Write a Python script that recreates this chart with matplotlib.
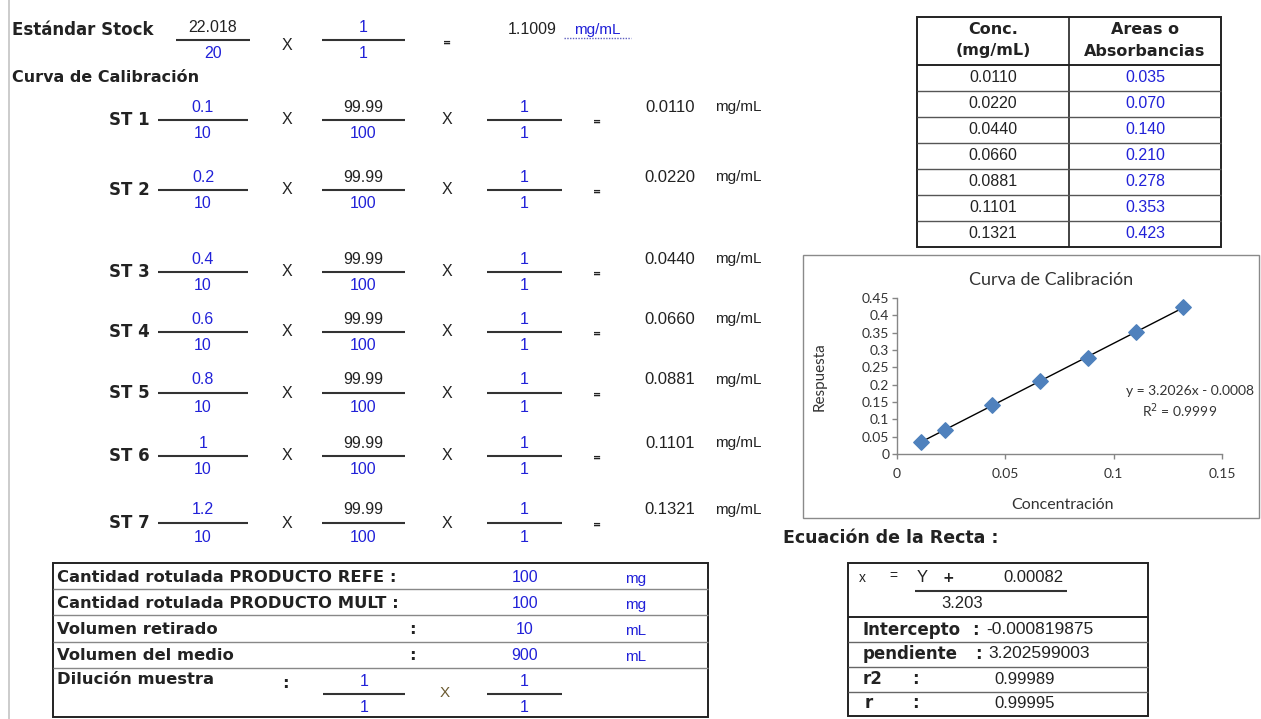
import matplotlib
matplotlib.use("Agg")
import matplotlib.pyplot as plt
from matplotlib.patches import Rectangle
import numpy as np

# ---------------- data ----------------
conc = [0.0110, 0.0220, 0.0440, 0.0660, 0.0881, 0.1101, 0.1321]
conc_labels = ["0.0110", "0.0220", "0.0440", "0.0660", "0.0881", "0.1101", "0.1321"]
resp = [0.035, 0.070, 0.140, 0.210, 0.278, 0.353, 0.423]
resp_labels = ["0.035", "0.070", "0.140", "0.210", "0.278", "0.353", "0.423"]

st_names = ["ST 1", "ST 2", "ST 3", "ST 4", "ST 5", "ST 6", "ST 7"]
st_num = ["0.1", "0.2", "0.4", "0.6", "0.8", "1", "1.2"]
st_den = ["10"] * 7
purity_num = "99.99"
purity_den = "100"
dil_num = "1"
dil_den = "1"

stock_num = "22.018"
stock_den = "20"
stock_value = "1.1009"
unit = "mg/mL"

box_labels = ["Cantidad rotulada PRODUCTO REFE :", "Cantidad rotulada PRODUCTO MULT :",
              "Volumen retirado", "Volumen del medio"]
box_values = ["100", "100", "10", "900"]
box_units = ["mg", "mg", "mL", "mL"]

eq_intercept = "-0.000819875"
eq_slope = "3.202599003"
eq_r2 = "0.99989"
eq_r = "0.99995"
eq_plus = "0.00082"
eq_div = "3.203"

x_ticks = [0, 0.05, 0.1, 0.15]
x_tick_labels = ["0", "0.05", "0.1", "0.15"]
y_ticks = [0, 0.05, 0.1, 0.15, 0.2, 0.25, 0.3, 0.35, 0.4, 0.45]
y_tick_labels = ["0", "0.05", "0.1", "0.15", "0.2", "0.25", "0.3", "0.35", "0.4", "0.45"]

# ---------------- styles ----------------
BLUE = "#2121d8"
DARK = "#222222"
LINE = "#333333"
BOLD = dict(family="DejaVu Sans", fontweight="bold", color=DARK)
NUM = dict(family="Liberation Sans", color=DARK)
CH = dict(family="Lato", color="#333333")

W, H = 1261, 719
fig = plt.figure(figsize=(W / 100, H / 100), dpi=100)
bg = fig.add_axes([0, 0, 1, 1])
bg.set_xlim(0, W)
bg.set_ylim(H, 0)
bg.axis("off")


def txt(x, y, s, style, size, color=None, ha="center", va="center", **kw):
    d = dict(style)
    if color:
        d["color"] = color
    bg.text(x, y, s, fontsize=size, ha=ha, va=va, **d, **kw)


def hline(x0, x1, y, lw=1.5, color=LINE, **kw):
    bg.plot([x0, x1], [y, y], color=color, lw=lw, solid_capstyle="butt", **kw)


def vline(x, y0, y1, lw=1.0, color=LINE):
    bg.plot([x, x], [y0, y1], color=color, lw=lw, solid_capstyle="butt")


def frac(x0, x1, y, num, den, ncol, dcol, size=11.5):
    hline(x0, x1, y)
    cx = (x0 + x1) / 2
    txt(cx, y - 13, num, NUM, size, color=ncol)
    txt(cx, y + 14, den, NUM, size, color=dcol)


# left grey margin line
vline(9, 0, H, lw=1.2, color="#c4c4c4")

# ---------------- header: stock ----------------
txt(12, 30, "Estándar Stock", BOLD, 12, ha="left")
frac(176, 250, 40, stock_num, stock_den, DARK, BLUE)
txt(287, 45, "X", NUM, 11.5)
frac(322, 405, 40, "1", "1", BLUE, BLUE)
txt(447, 43, "=", BOLD, 7)
txt(532, 30, stock_value, NUM, 11.5)
txt(597, 30, unit, NUM, 11, color=BLUE)
bg.plot([564, 631], [38, 38], color="#6060c0", lw=1, ls=(0, (1, 1)))

txt(12, 78, "Curva de Calibración", BOLD, 11.5, ha="left")

# ---------------- ST rows ----------------
row_y = [120, 190, 272, 332, 393, 456, 523]
for i, y in enumerate(row_y):
    txt(150, y, st_names[i], BOLD, 12, ha="right")
    frac(158, 248, y, st_num[i], st_den[i], BLUE, BLUE)
    txt(287, y, "X", NUM, 11.5)
    frac(322, 405, y, purity_num, purity_den, DARK, BLUE)
    txt(447, y, "X", NUM, 11.5)
    frac(487, 562, y, dil_num, dil_den, BLUE, BLUE)
    txt(597, y + 2, "=", BOLD, 7)
    txt(670, y - 13, conc_labels[i], NUM, 12)
    txt(715, y - 13, unit, NUM, 11, ha="left")

# ---------------- top right table ----------------
tx0, tx1, tx2 = 917, 1069, 1221
ty_top, ty_head = 17, 65
rh = 26
ty_bot = ty_head + rh * len(conc)
bg.add_patch(Rectangle((tx0, ty_top), tx2 - tx0, ty_bot - ty_top, fill=False, ec=DARK, lw=1.4))
vline(tx1, ty_top, ty_bot, lw=1.2, color=DARK)
hline(tx0, tx2, ty_head, lw=1.4, color=DARK)
for k in range(1, len(conc)):
    hline(tx0, tx2, ty_head + rh * k, lw=1.0, color="#555555")
txt((tx0 + tx1) / 2, 30, "Conc.", BOLD, 11.5)
txt((tx0 + tx1) / 2, 51, "(mg/mL)", BOLD, 11.5)
txt((tx1 + tx2) / 2, 30, "Areas o", BOLD, 11.5)
txt((tx1 + tx2) / 2, 51, "Absorbancias", BOLD, 11.5)
for k in range(len(conc)):
    yc = ty_head + rh * k + rh / 2
    txt((tx0 + tx1) / 2, yc, conc_labels[k], NUM, 11.5)
    txt((tx1 + tx2) / 2, yc, resp_labels[k], NUM, 11.5, color=BLUE)

# ---------------- chart ----------------
bg.add_patch(Rectangle((803, 255), 1259 - 803, 518 - 255, fill=False, ec="#8a8a8a", lw=1.0))
ax = fig.add_axes([897 / W, (H - 454) / H, (1222 - 897) / W, (454 - 298) / H])
ax.set_xlim(0, 0.15)
ax.set_ylim(0, 0.45)
slope, intercept = np.polyfit(conc, resp, 1)
xx = np.array([min(conc), max(conc)])
ax.plot(xx, slope * xx + intercept, color="black", lw=1.0, zorder=2)
ax.scatter(conc, resp, marker="D", s=62, color="#4f81bd", edgecolors="#4f81bd", zorder=3)
for s in ["top", "right"]:
    ax.spines[s].set_visible(False)
for s in ["left", "bottom"]:
    ax.spines[s].set_color("#868686")
    ax.spines[s].set_linewidth(1.0)
ax.set_xticks(x_ticks)
ax.set_xticklabels(x_tick_labels)
ax.set_yticks(y_ticks)
ax.set_yticklabels(y_tick_labels)
ax.tick_params(axis="both", colors="#868686", labelcolor="#333333", labelsize=10,
               length=3.5, width=1.0, direction="out")
ax.tick_params(axis="x", pad=6.5)
ax.tick_params(axis="y", pad=2)
for lab in ax.get_xticklabels() + ax.get_yticklabels():
    lab.set_family("Lato")
ax.patch.set_alpha(0)

txt(1051, 280, "Curva de Calibración", CH, 13)
txt(820, 377, "Respuesta", CH, 11, rotation=90)
txt(1062, 505, "Concentración", CH, 11.5)
txt(1190, 391, "y = 3.2026x - 0.0008", CH, 10)
txt(1180, 411, "R$^2$ = 0.9999", CH, 10)

# ---------------- equation box ----------------
txt(783, 538, "Ecuación de la Recta :", BOLD, 12.5, ha="left")
ex0, ex1 = 848, 1148
bg.add_patch(Rectangle((ex0, 563), ex1 - ex0, 716 - 563, fill=False, ec=DARK, lw=1.4))
hline(ex0, ex1, 617, lw=1.4, color=DARK)
for yy in [642, 667, 692]:
    hline(ex0, ex1, yy, lw=1.0, color="#666666")
txt(862, 578, "x", NUM, 10)
txt(893, 576, "=", NUM, 10)
txt(922, 578, "Y", NUM, 12)
txt(948, 578, "+", BOLD, 10)
txt(1033, 578, eq_plus, NUM, 12)
hline(915, 1067, 591, lw=1.5)
txt(962, 603, eq_div, NUM, 12)
txt(863, 630, "Intercepto", BOLD, 12, ha="left")
txt(975, 630, ":", BOLD, 12)
txt(986, 630, eq_intercept, NUM, 12.5, ha="left")
txt(863, 654, "pendiente", BOLD, 12, ha="left")
txt(978, 654, ":", BOLD, 12)
txt(988, 654, eq_slope, NUM, 12.5, ha="left")
txt(863, 679, "r2", BOLD, 12, ha="left")
txt(915, 679, ":", BOLD, 12)
txt(1025, 679, eq_r2, NUM, 12)
txt(865, 703, "r", BOLD, 12, ha="left")
txt(915, 703, ":", BOLD, 12)
txt(1025, 703, eq_r, NUM, 12)

# ---------------- bottom left box ----------------
bx0, bx1 = 53, 708
bg.add_patch(Rectangle((bx0, 563), bx1 - bx0, 717 - 563, fill=False, ec=DARK, lw=1.4))
for yy in [589, 615, 642, 668]:
    hline(bx0, bx1, yy, lw=1.0, color="#888888")
row_c = [577, 603, 629, 655]
for i, yc in enumerate(row_c):
    txt(57, yc, box_labels[i], BOLD, 11.8, ha="left")
    if i >= 2:
        txt(412, yc + 1, ":", BOLD, 11.8)
    txt(525, yc, box_values[i], NUM, 11.5, color=BLUE)
    txt(625, yc + 2, box_units[i], NUM, 11, color=BLUE, ha="left")
txt(57, 680, "Dilución muestra", BOLD, 11.8, ha="left")
txt(285, 683, ":", BOLD, 11.8)
frac(323, 405, 694, "1", "1", BLUE, BLUE)
txt(445, 693, "X", NUM, 11, color="#6b5a30")
frac(487, 562, 694, "1", "1", BLUE, BLUE)

fig.savefig("out.png", dpi=100)
